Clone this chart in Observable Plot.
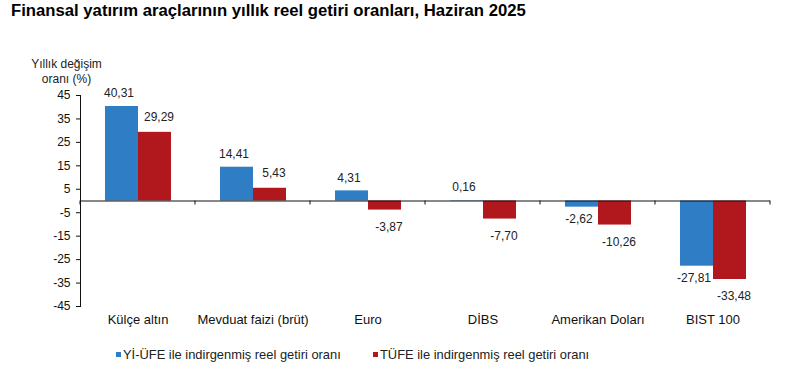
<!DOCTYPE html>
<html><head><meta charset="utf-8">
<script src="https://cdn.jsdelivr.net/npm/d3@7"></script>
<script src="https://cdn.jsdelivr.net/npm/@observablehq/plot@0.6"></script>
<style>
body{margin:0;background:#fff;font-family:"Liberation Sans",Arial,sans-serif;}
#wrap{position:relative;width:807px;height:392px;overflow:hidden;background:#fff}
#title{position:absolute;left:11px;top:1px;font-weight:bold;font-size:16.7px;color:#000;white-space:nowrap}
#ylab{position:absolute;left:26px;top:57px;width:81px;text-align:center;font-size:12px;line-height:14.5px;color:#222}
#chart{position:absolute;left:0;top:40px}
#legend{position:absolute;left:116px;top:347px;font-size:12.9px;color:#222;white-space:nowrap}
.li{position:absolute;top:0;line-height:16px}
.sw{position:absolute;top:5px;width:5px;height:5px}
#chart g[aria-label="fx-axis tick label"] text{font-size:13px}
</style></head>
<body><div id="wrap">
<div id="title">Finansal yatırım araçlarının yıllık reel getiri oranları, Haziran 2025</div>
<div id="ylab">Yıllık değişim<br>oranı (%)</div>
<div id="chart"></div>
<div id="legend"></div>
</div>
<script>
const categories = ["Külçe altın","Mevduat faizi (brüt)","Euro","DİBS","Amerikan Doları","BIST 100"];
const series = ["Yİ-ÜFE ile indirgenmiş reel getiri oranı","TÜFE ile indirgenmiş reel getiri oranı"];
const yiufe = [40.31,14.41,4.31,0.16,-2.62,-27.81];
const tufe = [29.29,5.43,-3.87,-7.70,-10.26,-33.48];
const yTicks = [-45,-35,-25,-15,-5,5,15,25,35,45];
const colors = ["#2e7dc5","#b0181d"];

const data = [];
categories.forEach((c,i)=>{
  data.push({cat:c, series:series[0], value:yiufe[i]});
  data.push({cat:c, series:series[1], value:tufe[i]});
});
const fmt = v => v.toFixed(2).replace(".", ",");
const lab = (s, pos, dx, dy) => Plot.text(
  data.filter(d => d.series === series[s] && (pos ? d.value >= 0 : d.value < 0)),
  {fx:"cat", x:"series", y:"value", text: d => fmt(d.value), dx, dy, fill:"#222", fontSize:12});

const chart = Plot.plot({
  width:807, height:296, marginTop:55, marginBottom:30, marginLeft:80, marginRight:37,
  style:{fontFamily:"'Liberation Sans', Arial, sans-serif", fontSize:"12px", color:"#111", background:"transparent"},
  fx:{domain:categories, padding:0, axis:"bottom", label:null, tickSize:0, tickPadding:8},
  x:{domain:series, paddingInner:0, paddingOuter:0.742, axis:null},
  y:{domain:[-45,45], ticks:yTicks, tickSize:4, tickPadding:6, line:true, label:null, tickFormat:d=>String(d)},
  color:{domain:series, range:colors},
  marks:[
    Plot.barY(data,{fx:"cat", x:"series", y:"value", fill:"series"}),
    Plot.ruleY([0],{stroke:"#111"}),
    lab(0,true,-3,-13), lab(0,false,-3,12),
    lab(1,true,4,-15), lab(1,false,4,17)
  ]
});
document.getElementById("chart").appendChild(chart);

// boundary ticks under the zero line, from the fx and y scales
const fxs = chart.scale("fx"), ys = chart.scale("y");
const y0 = ys.apply(0);
const bounds = categories.map(c => fxs.apply(c));
bounds.push(fxs.apply(categories[categories.length-1]) + fxs.bandwidth);
d3.select(chart).append("g").selectAll("line").data(bounds).join("line")
  .attr("x1", d=>d).attr("x2", d=>d).attr("y1", y0).attr("y2", y0+4)
  .attr("stroke", "#111");

// legend
const leg = document.getElementById("legend");
const offs = [0, 257];
series.forEach((s,i)=>{
  const sw = document.createElement("div"); sw.className="sw";
  sw.style.left = offs[i]+"px"; sw.style.background = colors[i]; leg.appendChild(sw);
  const t = document.createElement("div"); t.className="li";
  t.style.left = (offs[i]+7)+"px"; t.textContent = s; leg.appendChild(t);
});
</script>
</body></html>
